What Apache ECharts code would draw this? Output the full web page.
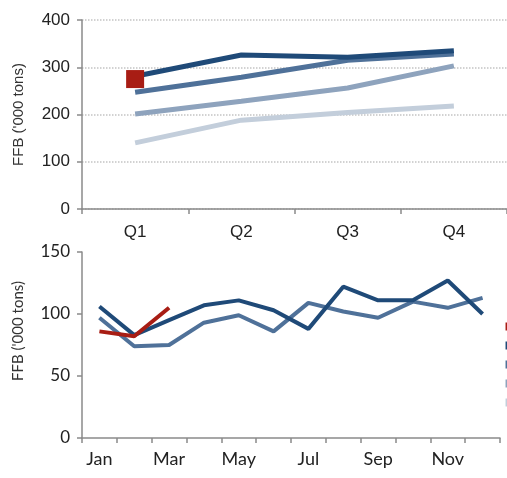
<!DOCTYPE html>
<html>
<head>
<meta charset="utf-8">
<script src="https://cdn.jsdelivr.net/npm/echarts@6/dist/echarts.min.js"></script>
<style>
  html, body { margin: 0; padding: 0; background: #fff; overflow: hidden; }
  #chart { width: 507px; height: 478px; }
</style>
</head>
<body>
<div id="chart"></div>
<script>
// Quarterly FFB production ('000 tons)
const quarters = ['Q1', 'Q2', 'Q3', 'Q4'];
const q2013 = [275, null, null, null];
const q2012 = [281, 326, 321, 335];
const q2011 = [247, 279, 315, 328];
const q2010 = [201, 228, 256, 303];
const q2009 = [140, 188, 204, 218];

// Monthly FFB production ('000 tons)
const months = ['Jan', 'Feb', 'Mar', 'Apr', 'May', 'Jun', 'Jul', 'Aug', 'Sep', 'Oct', 'Nov', 'Dec'];
const m2013 = [86, 82, 105];
const m2012 = [106, 83, 95, 107, 111, 103, 88, 122, 111, 111, 127, 100];
const m2011 = [97, 74, 75, 93, 99, 86, 109, 102, 97, 110, 105, 113];

const seriesNames = ['2013', '2012', '2011', '2010', '2009'];
const colors = {
  '2013': '#a81d14',
  '2012': '#1f4a78',
  '2011': '#4f7199',
  '2010': '#8ea3bd',
  '2009': '#c3cedb'
};

const chart = echarts.init(document.getElementById('chart'), null, { renderer: 'canvas' });

const axisLine = { show: true, lineStyle: { color: '#8a8a8a', width: 1.5 } };
const axisTick = { show: true, length: 5, lineStyle: { color: '#8a8a8a', width: 1.5 } };
const yName = "FFB ('000 tons)";

function qLine(name, data) {
  return {
    name, type: 'line', xAxisIndex: 0, yAxisIndex: 0, data,
    showSymbol: false, symbol: 'none',
    lineStyle: { color: colors[name], width: 5 },
    itemStyle: { color: colors[name] }
  };
}
function mLine(name, data) {
  return {
    name, type: 'line', xAxisIndex: 1, yAxisIndex: 1, data,
    showSymbol: false, symbol: 'none',
    lineStyle: { color: colors[name], width: 4 },
    itemStyle: { color: colors[name] }
  };
}

chart.setOption({
  animation: false,
  backgroundColor: '#fff',
  legend: {
    orient: 'vertical',
    right: -42, top: 316,
    icon: 'rect', itemWidth: 9, itemHeight: 8, itemGap: 8,
    data: seriesNames,
    textStyle: { fontSize: 11, color: '#333' }
  },
  grid: [
    { left: 82, top: 20, width: 426, height: 189 },
    { left: 82, top: 252, width: 418, height: 186 }
  ],
  xAxis: [
    {
      gridIndex: 0, type: 'category', data: quarters, boundaryGap: true,
      axisLine, axisTick,
      axisLabel: { fontFamily: 'Liberation Sans', fontSize: 17, color: '#222', margin: 15 }
    },
    {
      gridIndex: 1, type: 'category', data: months, boundaryGap: true,
      axisLine, axisTick: Object.assign({}, axisTick, { interval: 0 }),
      axisLabel: { interval: 1, fontFamily: 'Lato', fontSize: 18, color: '#222', margin: 12 }
    }
  ],
  yAxis: [
    {
      gridIndex: 0, type: 'value', min: 0, max: 400, interval: 100,
      name: yName, nameLocation: 'middle', nameGap: 56,
      nameTextStyle: { fontFamily: 'Liberation Sans', fontSize: 15, color: '#333' },
      axisLine, axisTick,
      axisLabel: { fontFamily: 'Liberation Sans', fontSize: 17, color: '#222', margin: 12 },
      splitLine: { show: true, lineStyle: { color: '#c4c4c4', type: 'dotted', width: 1.5 } }
    },
    {
      gridIndex: 1, type: 'value', min: 0, max: 150, interval: 50,
      name: yName, nameLocation: 'middle', nameGap: 56,
      nameTextStyle: { fontFamily: 'Lato', fontSize: 15, color: '#333', padding: [0, 0, 0, 28] },
      axisLine, axisTick,
      axisLabel: { fontFamily: 'Lato', fontSize: 17, color: '#222', margin: 12 },
      splitLine: { show: false }
    }
  ],
  series: [
    qLine('2009', q2009),
    qLine('2010', q2010),
    qLine('2011', q2011),
    qLine('2012', q2012),
    {
      name: '2013', type: 'line', xAxisIndex: 0, yAxisIndex: 0, data: q2013,
      symbol: 'rect', symbolSize: 18, showSymbol: true,
      lineStyle: { color: colors['2013'], width: 5 },
      itemStyle: { color: colors['2013'] }
    },
    mLine('2011', m2011),
    mLine('2012', m2012),
    mLine('2013', m2013)
  ]
});
</script>
</body>
</html>
